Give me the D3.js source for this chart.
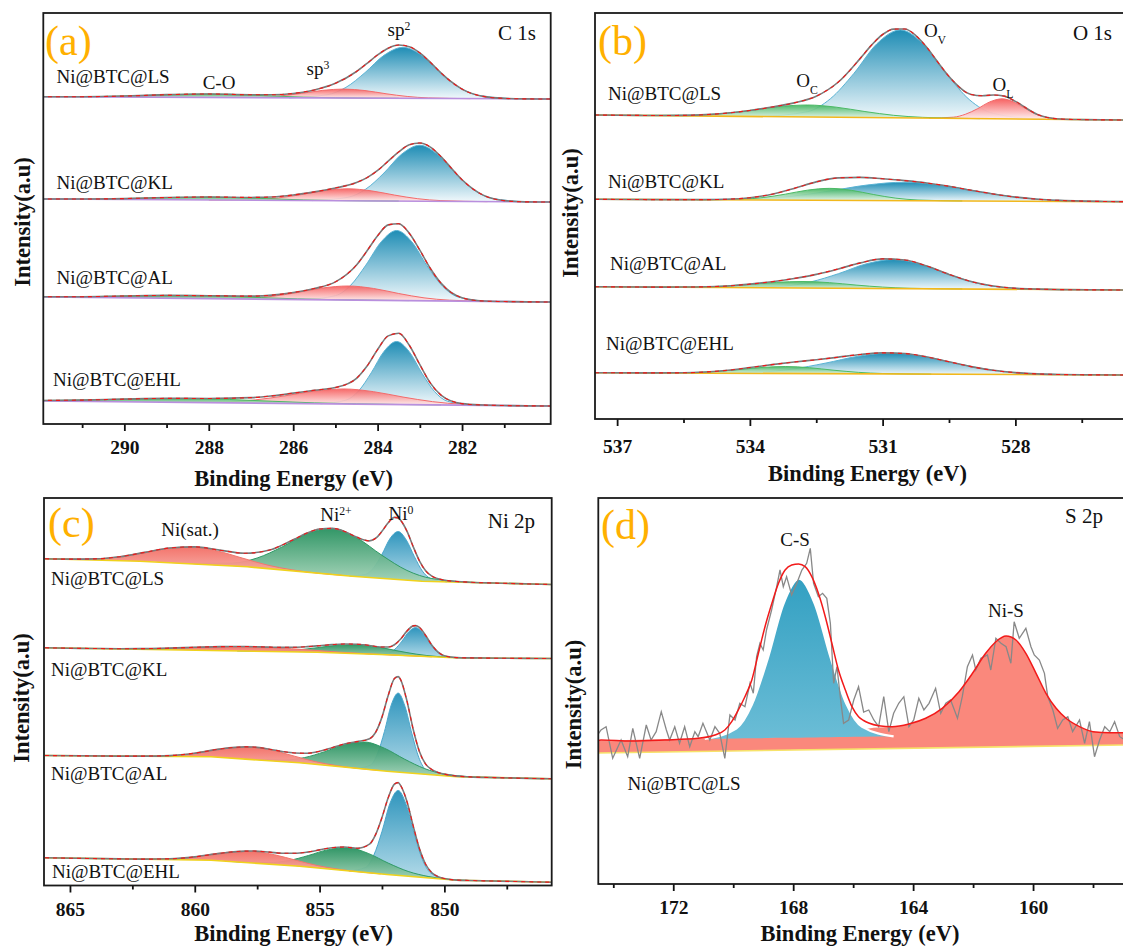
<!DOCTYPE html>
<meta charset="utf-8">
<style>
  body { margin: 0; background: #fff; }
  text { font-family: "Liberation Serif"; fill: #111; }
</style>
<svg width="1123" height="947"></svg>
<script src="https://cdn.jsdelivr.net/npm/d3@7"></script>
<script>

var svg = d3.select("svg"),
    defs = svg.append("defs");

var samples = ["Ni@BTC@LS", "Ni@BTC@KL", "Ni@BTC@AL", "Ni@BTC@EHL"];

// ---------- (a) C 1s : [eV, height above baseline] ----------
var cTicks = [290, 288, 286, 284, 282],
    cMinor = [291, 289, 287, 285, 283, 281];
var cBase = [[327.3, 325], [225, 222], [127, 122], [23, 18]];
var cFit = [
  [[292,0],[291,0.2],[290,1],[289,2.6],[288,3.5],[287,2.9],[286.5,3],[286,4.4],[285.5,8],[285,14.7],[284.5,26.6],[284.25,34.8],[284,43.3],[283.75,50.1],[283.5,53.3],[283.25,51.7],[283,45.5],[282.75,36],[282.5,25.7],[282.25,16.6],[282,9.5],[281.5,2.3],[281,0.4],[280.5,0],[279.9,0]],
  [[292,0],[291,0.2],[290,0.9],[289,2.2],[288,3],[287,2.8],[286.5,3.4],[286,5.5],[285.5,8.7],[285,12.7],[284.5,18.3],[284.25,23.3],[284,30.5],[283.75,39.9],[283.5,49.2],[283.25,56.4],[283,58.3],[282.75,54.2],[282.5,44.8],[282.25,33.1],[282,21.7],[281.5,6.5],[281,1.1],[280.5,0],[279.9,0]],
  [[292,0.2],[291,0.7],[290,1.8],[289,2.8],[288,2.9],[287,2.9],[286.5,4.1],[286,6.9],[285.5,11.2],[285,18],[284.5,35.1],[284.25,49.4],[284,64.6],[283.75,75.5],[283.5,76.8],[283.25,67.3],[283,50.5],[282.75,32.3],[282.5,17.8],[282,3.3],[281.5,0.3],[281,0],[279.9,0]],
  [[292,0.5],[291,1.3],[290,2.7],[289,3.8],[288,4.2],[287,5.4],[286.5,7.4],[286,10.3],[285.5,13.4],[285,16.3],[284.5,25.8],[284.25,38.2],[284,54.8],[283.75,68.5],[283.5,71.2],[283.25,59.4],[283,40],[282.75,21.7],[282.5,9.9],[282,1.5],[281.5,0.3],[281,0],[279.9,0]]
];
var cSp2 = [
  [[286.1,0],[285.2,3.2],[284.75,10.7],[284.3,25.5],[283.85,42.9],[283.4,51],[282.95,42.9],[282.5,25.5],[282.05,10.7],[281.6,3.2],[280.7,0]],
  [[285.55,0],[284.7,3.5],[284.28,11.8],[283.85,28],[283.43,47],[283,56],[282.58,47],[282.15,28],[281.73,11.8],[281.3,3.5],[280.45,0]],
  [[285.73,0],[285,4.2],[284.64,14.7],[284.28,35],[283.91,58.8],[283.55,70],[283.19,58.8],[282.83,35],[282.46,14.7],[282.1,4.2],[281.38,0]],
  [[285.35,0],[284.75,3.8],[284.45,13.2],[284.15,31.5],[283.85,52.9],[283.55,63],[283.25,52.9],[282.95,31.5],[282.65,13.2],[282.35,3.8],[281.75,0]]
];
var cSp3 = [
  [[287.8,0],[286.8,0.56],[286.3,1.9],[285.8,4.5],[285.3,7.6],[284.8,9],[284.3,7.6],[283.8,4.5],[283.3,1.9],[282.8,0.56],[281.8,0]],
  [[288,0],[286.9,0.75],[286.35,2.5],[285.8,6],[285.25,10.1],[284.7,12],[284.15,10.1],[283.6,6],[283.05,2.5],[282.5,0.75],[281.4,0]],
  [[288.3,0],[287.1,0.84],[286.5,2.9],[285.9,7],[285.3,11.8],[284.7,14],[284.1,11.8],[283.5,7],[282.9,2.9],[282.3,0.84],[281.1,0]],
  [[289,0],[287.6,0.9],[286.9,3.2],[286.2,7.5],[285.5,12.6],[284.8,15],[284.1,12.6],[283.4,7.5],[282.7,3.2],[282,0.9],[280.6,0]]
];
var cCO = [
  [[292,0.05],[291,0.22],[290.25,0.74],[289.5,1.75],[288.75,2.94],[288,3.5],[287.25,2.94],[286.5,1.75],[285.75,0.74],[285,0.22],[283.5,0]],
  [[292,0.03],[291,0.19],[290.25,0.63],[289.5,1.5],[288.75,2.5],[288,3],[287.25,2.5],[286.5,1.5],[285.75,0.63],[285,0.19],[283.5,0]],
  [[292,0.19],[291.1,0.63],[290.25,1.5],[289.4,2.5],[288.5,3],[287.6,2.5],[286.75,1.5],[285.9,0.63],[285,0.19],[283.25,0]],
  [[292,0.5],[291.5,0.84],[290.5,2],[289.5,3.36],[288.5,4],[287.5,3.36],[286.5,2],[285.5,0.84],[284.5,0.25],[282.5,0]]
];

// ---------- (b) O 1s ----------
var oTicks = [537, 534, 531, 528],
    oMinor = [535.5, 532.5, 529.5, 526.5];
var oBase = [[304, 299], [219.7, 217.3], [132.3, 129], [46.3, 44]];
var oFit = [
  [[537.5,0],[536.5,0],[536,0.1],[535.5,0.5],[535,1.4],[534.5,3.2],[534,6],[533.5,9.6],[533,14],[532.5,20.9],[532,35.3],[531.5,59.4],[531.25,72.5],[531,83.2],[530.75,88.7],[530.5,88.9],[530.25,82.5],[530,70.7],[529.75,55.9],[529.5,41.9],[529,24.1],[528.75,22.9],[528.5,23.7],[528.25,22.7],[528,17.6],[527.5,4.7],[527,0.4],[526.5,0],[525.5,0]],
  [[537.5,0],[536,0],[535,0.2],[534.5,0.7],[534,2.3],[533.5,5.8],[533,11.8],[532.5,18.4],[532,22.5],[531.5,23.1],[531,21.8],[530.5,20.1],[530,17.8],[529.5,14.6],[529,10.8],[528.5,7.1],[528,4.1],[527.5,2.1],[527,1],[526.5,0.4],[526,0.15],[525.5,0]],
  [[537.5,0],[536,0],[535.5,0.2],[535,0.6],[534.5,1.6],[534,3.5],[533.5,6.1],[533,9.5],[532.5,13.7],[532,19.3],[531.5,25.5],[531,29.6],[530.5,28.7],[530,22.7],[529.5,14.5],[529,7.5],[528.5,3.1],[528,1],[527.5,0.3],[527,0],[525.5,0]],
  [[537.5,0],[536.5,0],[536,0.1],[535.5,0.3],[535,1.2],[534.5,3],[534,5.8],[533.5,8.8],[533,11.5],[532.5,13.9],[532,16.6],[531.5,19.4],[531,21.1],[530.5,20.5],[530,17.2],[529.5,12.5],[529,7.7],[528.5,4.1],[528,1.9],[527.5,0.7],[527,0.2],[526.5,0],[525.5,0]]
];
var oOv = [
  [[533.75,0],[532.7,5.3],[532.18,18.5],[531.65,44],[531.13,73.9],[530.6,88],[530.08,73.9],[529.55,44],[529.03,18.5],[528.5,5.3],[527.45,0]],
  [[535.6,0],[533.9,1.2],[533.05,3.9],[532.2,9.3],[531.35,15.5],[530.5,18.5],[529.65,15.5],[528.8,9.3],[527.95,3.9],[527.1,1.2],[525.5,0]],
  [[534.5,0],[533.25,1.7],[532.63,6.1],[532,14.5],[531.38,24.4],[530.75,29],[530.13,24.4],[529.5,14.5],[528.88,6.1],[528.25,1.7],[527,0]],
  [[535.3,0],[533.8,1.3],[533.05,4.4],[532.3,10.5],[531.55,17.6],[530.8,21],[530.05,17.6],[529.3,10.5],[528.55,4.4],[527.8,1.3],[526.3,0]]
];
var oOc = [
  [[536.6,0],[535.3,0.75],[534.65,2.5],[534,6],[533.35,10.1],[532.7,12],[532.05,10.1],[531.4,6],[530.75,2.5],[530.1,0.75],[528.8,0]],
  [[535.2,0],[534.2,0.75],[533.7,2.5],[533.2,6],[532.7,10.1],[532.2,12],[531.7,10.1],[531.2,6],[530.7,2.5],[530.2,0.75],[529.2,0]],
  [[536.4,0],[535.2,0.4],[534.6,1.4],[534,3.25],[533.4,5.5],[532.8,6.5],[532.2,5.5],[531.6,3.25],[531,1.4],[530.4,0.4],[529.2,0]],
  [[536.5,0],[535.4,0.44],[534.85,1.5],[534.3,3.5],[533.75,5.9],[533.2,7],[532.65,5.9],[532.1,3.5],[531.55,1.5],[531,0.44],[529.9,0]]
];
var oOl = [
  [[529.95,0],[529.4,1.2],[529.13,4.2],[528.85,10],[528.58,16.8],[528.3,20],[528.03,16.8],[527.75,10],[527.48,4.2],[527.2,1.2],[526.65,0]],
  [], [], []
];

// ---------- (c) Ni 2p ----------
var nTicks = [865, 860, 855, 850],
    nMinor = [862.5, 857.5, 852.5, 847.5];
var nBase = [
  [[866,326.7],[862.2,324.3],[857.9,318.7],[853.7,309.3],[850.9,304.3],[845.7,301]],
  [[866,237.7],[855.1,233.3],[852.3,230.7],[849.6,227.7],[845.7,227]],
  [[866,130],[859.35,128.7],[855.8,122.7],[852.3,114.3],[849.5,108.7],[845.7,106.7]],
  [[866,27.7],[859.35,25.3],[855.8,19.3],[852.3,11],[849.5,5.3],[845.7,3.3]]
];
var nFit = [
  [[866,0],[865,0.3],[864,1.2],[863,4],[862,9.1],[861,14.8],[860,17.2],[859,15.2],[858,13.4],[857,18.8],[856.5,24.8],[856,32],[855.5,39.1],[855,44.3],[854.5,46],[854,44.1],[853.5,39.3],[853,36.6],[852.75,39.7],[852.5,47],[852.25,56],[852,61.9],[851.85,61.6],[851.75,59.3],[851.5,49],[851.25,34],[851,20.2],[850.75,10.6],[850.5,5.3],[850,1.6],[849.5,0.6],[849,0.2],[848,0],[845.7,0]],
  [[866,0],[865,0],[864,0.1],[863,0.3],[862,0.8],[861,1.7],[860,2.9],[859,4],[858,4.5],[857,4.3],[856.5,4.3],[856,4.6],[855.5,5.4],[855,6.6],[854.5,8.1],[854,9.2],[853.5,9.5],[853,8.7],[852.75,7.9],[852.5,7.6],[852.25,7.8],[852,10.4],[851.75,16.4],[851.5,24.6],[851.25,30.1],[851.15,30.5],[851,28.8],[850.75,21],[850.5,11.6],[850.25,5],[850,1.7],[849.5,0.2],[849,0],[845.7,0]],
  [[866,0],[863,0],[862,0.2],[861,0.9],[860,3.5],[859,8.3],[858,12.2],[857.7,12.6],[857,11.6],[856.5,10.2],[856,9.5],[855.5,10.3],[855,13.4],[854.5,18.2],[854,23.2],[853.5,26.7],[853,30.7],[852.75,38],[852.5,53.6],[852.25,75.9],[852,93.3],[851.85,95.5],[851.75,92.5],[851.5,71.9],[851.25,44.1],[851,22.3],[850.75,10.2],[850.5,5.2],[850.25,2.9],[850,1.7],[849.5,0.7],[849,0.2],[848,0],[845.7,0]],
  [[866,0],[863,0],[862,0.1],[861,0.8],[860,3.1],[859,7.4],[858,11.4],[857.65,12],[857,12],[856.5,11.8],[856,12.6],[855.5,14.8],[855,18.2],[854.5,21.6],[854,23.4],[853.5,23.4],[853,28.7],[852.75,39.1],[852.5,56.5],[852.25,76.9],[852,91],[851.85,92.8],[851.75,90],[851.5,74.7],[851.25,50.8],[851,28.6],[850.75,13.4],[850.5,5.4],[850.25,2],[850,0.7],[849.5,0.1],[849,0],[845.7,0]]
];
var nNi0 = [
  [[853.8,0],[853.15,2.9],[852.83,10.1],[852.5,24],[852.18,40.3],[851.85,48],[851.53,40.3],[851.2,24],[850.88,10.1],[850.55,2.9],[849.9,0]],
  [[852.8,0],[852.25,1.7],[851.98,6],[851.7,14.3],[851.43,23.9],[851.15,28.5],[850.88,23.9],[850.6,14.3],[850.33,6],[850.05,1.7],[849.5,0]],
  [[853.5,0],[852.95,4.7],[852.68,16.6],[852.4,39.5],[852.13,66.4],[851.85,79],[851.58,66.4],[851.3,39.5],[851.03,16.6],[850.75,4.7],[850.2,0]],
  [[853.8,0],[853.15,5.1],[852.83,17.9],[852.5,42.5],[852.18,71.4],[851.85,85],[851.53,71.4],[851.2,42.5],[850.88,17.9],[850.55,5.1],[849.9,0]]
];
var nNi2 = [
  [[860.5,0],[858.5,2.9],[857.5,9.7],[856.5,23],[855.5,38.6],[854.5,46],[853.5,38.6],[852.5,23],[851.5,9.7],[850.5,2.9],[848.5,0]],
  [[858.3,0],[856.7,0.56],[855.9,1.9],[855.1,4.5],[854.3,7.6],[853.5,9],[852.7,7.6],[851.9,4.5],[851.1,1.9],[850.3,0.56],[848.7,0]],
  [[858,0],[856.4,1.7],[855.6,5.7],[854.8,13.5],[854,22.7],[853.2,27],[852.4,22.7],[851.6,13.5],[850.8,5.7],[850,1.7],[848.4,0]],
  [[858.65,0],[857.05,1.4],[856.25,4.8],[855.45,11.5],[854.65,19.3],[853.85,23],[853.05,19.3],[852.25,11.5],[851.45,4.8],[850.65,1.4],[849.05,0]]
];
var nSat = [
  [[866.1,0],[864.1,1],[863.1,3.6],[862.1,8.5],[861.1,14.3],[860.1,17],[859.1,14.3],[858.1,8.5],[857.1,3.6],[856.1,1],[854.1,0]],
  [[865.5,0],[863,0.28],[861.75,0.95],[860.5,2.25],[859.25,3.8],[858,4.5],[856.75,3.8],[855.5,2.25],[854.25,0.95],[853,0.28],[850.5,0]],
  [[862.8,0],[861.1,0.75],[860.25,2.6],[859.4,6.25],[858.55,10.5],[857.7,12.5],[856.85,10.5],[856,6.25],[855.15,2.6],[854.3,0.75],[852.6,0]],
  [[862.75,0],[861.05,0.7],[860.2,2.4],[859.35,5.75],[858.5,9.7],[857.65,11.5],[856.8,9.7],[855.95,5.75],[855.1,2.4],[854.25,0.7],[852.55,0]]
];

// ---------- (d) S 2p (Ni@BTC@LS) : absolute intensity ----------
var sTicks = [172, 168, 164, 160],
    sMinor = [174, 170, 166, 162, 158];
var sFloor = [[174.5, 131], [156.9, 139]];
var sBg = [[174.5, 143.5], [156.9, 151]];
var sRaw = [[174.5,150],[174.41,154],[174.24,157.3],[174.02,125.7],[173.74,144],[173.52,127.3],[173.35,155.7],[173.12,125.7],[172.9,159],[172.74,144],[172.57,152.3],[172.4,172.3],[172.23,154],[172.12,144],[171.95,157.3],[171.79,140.7],[171.62,157.3],[171.45,137.3],[171.28,152.3],[171.17,147.3],[171.01,160.7],[170.78,144],[170.61,157.3],[170.45,150.7],[170.28,125.7],[170.11,169],[169.94,164],[169.78,180.7],[169.61,177.3],[169.44,200.7],[169.33,190.7],[169.22,227.3],[169.11,240.7],[169,234],[168.89,254],[168.72,274],[168.55,297.3],[168.44,314],[168.33,297.3],[168.22,307.3],[168.05,289],[167.88,300.7],[167.71,314],[167.55,320.7],[167.43,335.7],[167.32,300.7],[167.16,287.3],[167.02,290.7],[166.88,285.7],[166.76,260.7],[166.65,200.7],[166.54,217.3],[166.43,187.3],[166.32,160.7],[166.15,164],[165.98,184],[165.82,197.3],[165.65,172],[165.48,174],[165.31,164],[165.15,157.3],[164.98,187.3],[164.81,152.3],[164.65,170.7],[164.48,180.7],[164.31,187.3],[164.14,157.3],[163.98,164],[163.81,185.7],[163.64,174],[163.47,180.7],[163.25,195.7],[163.08,170.7],[162.91,180.7],[162.75,184],[162.52,165.7],[162.36,187.3],[162.19,217.3],[162.02,229],[161.91,214],[161.74,225.7],[161.52,229],[161.41,214],[161.24,245.7],[161.07,240.7],[160.9,237.3],[160.74,220.7],[160.63,262.3],[160.46,245.7],[160.24,255.7],[160.07,237.3],[159.96,229],[159.79,224],[159.62,210.7],[159.51,187.3],[159.34,174],[159.18,155.7],[159.01,164],[158.84,167.3],[158.68,152.3],[158.45,164],[158.28,140.7],[158.12,162.3],[157.95,127.3],[157.78,144],[157.61,157.3],[157.44,152.3],[157.28,162.3],[157.11,147.3],[156.94,144]];
var sFit = [[174.5,143.5],[174.41,144],[173.4,143],[172.29,144],[171.17,145.7],[170.61,149],[170.28,154],[170.05,162.3],[169.83,174],[169.61,187.3],[169.38,204],[169.16,230.7],[168.94,257.3],[168.71,280.7],[168.49,300.7],[168.27,314],[168.05,319],[167.82,320],[167.6,317.3],[167.38,307.3],[167.16,290.7],[166.93,267.3],[166.71,240.7],[166.49,214],[166.26,194],[166.04,177.3],[165.82,167.3],[165.65,163.5],[165.48,161],[165.15,158.3],[164.7,157.3],[164.14,160],[163.58,165.7],[163.03,175.7],[162.47,192.3],[162.02,210.7],[161.58,230.7],[161.24,242.3],[160.9,248],[160.57,244],[160.24,230.7],[159.9,210.7],[159.57,190.7],[159.23,175.7],[158.9,165.7],[158.45,157.3],[158,152.3],[157.44,151.3],[156.9,151.3]];
var sCS = [[170.95,0],[169.9,9.9],[169.38,33.4],[168.85,79.5],[168.33,133.6],[167.8,159],[167.28,133.6],[166.75,79.5],[166.23,33.4],[165.7,9.9],[164.65,0]];
var sNiS = [[174.5,0],[170,0.5],[168.5,1],[167,2.5],[166,4.5],[165.48,8.1],[165.15,8.9],[164.7,9.3],[164.14,12.1],[163.58,17.5],[163.03,27.3],[162.47,43.7],[162.02,61.9],[161.58,81.7],[161.24,93.1],[160.9,98.7],[160.57,94.5],[160.24,81.1],[159.9,61],[159.57,40.8],[159.23,25.7],[158.9,15.6],[158.45,7],[158,1.8],[157.44,0.5],[156.9,0.3]];

// ---------- gradients ----------
function grad(id, c0, c1) {
  var lg = defs.append("linearGradient").attr("id", id)
      .attr("x1", 0).attr("y1", 0).attr("x2", 0).attr("y2", 1);
  lg.append("stop").attr("offset", 0).attr("stop-color", c0);
  lg.append("stop").attr("offset", 1).attr("stop-color", c1);
}
grad("blueA", "#1f8db5", "#f2f9fc");
grad("redA", "#f65a5a", "#fff0f0");
grad("greenA", "#3db35c", "#e8f6ec");
grad("blueC", "#2f95bd", "#b4dbe9");
grad("greenC", "#27915f", "#a5d4b8");
grad("redC", "#f26d64", "#f9b2ab");
grad("blueD", "#33a0c2", "#6bbdd6");

// ---------- panels ----------
var panels = [
  {id: "a", x0: 43.3, x1: 550.7, top: 13, bottom: 424, dom: [291.92, 279.9], ticks: cTicks, minor: cMinor, pad: 9,
   title: [293.7, 485.5], ylab: [30, 222], letter: [45, 55, "(a)"], core: [536, 40, "C 1s"]},
  {id: "b", x0: 595, x1: 1126, top: 13, bottom: 419, dom: [537.5, 525.5], ticks: oTicks, minor: oMinor, pad: 13,
   title: [867.5, 481], ylab: [578, 213], letter: [598, 55, "(b)"], core: [1112, 40, "O 1s"]},
  {id: "c", x0: 44, x1: 551.7, top: 498, bottom: 885.5, dom: [866.04, 845.7], ticks: nTicks, minor: nMinor, pad: 10,
   title: [293.7, 940.5], ylab: [28.5, 698], letter: [48, 537, "(c)"], core: [535, 528, "Ni 2p"]},
  {id: "d", x0: 598.3, x1: 1126, top: 498, bottom: 884, dom: [174.5, 156.9], ticks: sTicks, minor: sMinor, pad: 9,
   title: [860, 941], ylab: [581, 704.5], letter: [601, 539, "(d)"], core: [1103, 523, "S 2p"]}
];

function frame(p) {
  var x = d3.scaleLinear().domain(p.dom).range([p.x0, p.x1]),
      y = d3.scaleLinear().domain([0, p.bottom - p.top]).range([p.bottom, p.top]);
  var g = svg.append("g");
  defs.append("clipPath").attr("id", "clip-" + p.id).append("rect")
      .attr("x", p.x0).attr("y", p.top).attr("width", p.x1 - p.x0).attr("height", p.bottom - p.top);
  var plot = g.append("g").attr("clip-path", "url(#clip-" + p.id + ")");

  var ax = g.append("g").attr("transform", "translate(0," + p.bottom + ")");
  ax.append("g").call(d3.axisBottom(x).tickValues(p.ticks).tickSize(7).tickPadding(p.pad).tickFormat(d3.format("d")));
  ax.append("g").call(d3.axisBottom(x).tickValues(p.minor).tickSize(4).tickFormat(""));
  ax.selectAll("g").attr("font-family", null);
  ax.selectAll(".domain").remove();
  ax.selectAll(".tick line").attr("stroke", "#111").attr("stroke-width", 1.8);
  ax.selectAll(".tick text").attr("font-size", 19.5).attr("font-weight", "bold");

  g.append("rect").attr("x", p.x0).attr("y", p.top)
      .attr("width", p.x1 - p.x0).attr("height", p.bottom - p.top)
      .attr("fill", "none").attr("stroke", "#1a1a1a").attr("stroke-width", 1.8);

  g.append("text").attr("x", p.title[0]).attr("y", p.title[1]).attr("text-anchor", "middle")
      .attr("font-size", 22.5).attr("font-weight", "bold").text("Binding Energy (eV)");
  g.append("text").attr("transform", "translate(" + p.ylab[0] + "," + p.ylab[1] + ") rotate(-90)")
      .attr("text-anchor", "middle").attr("font-size", 22.5).attr("font-weight", "bold").text("Intensity(a.u)");
  g.append("text").attr("x", p.letter[0]).attr("y", p.letter[1]).attr("font-size", 42)
      .style("fill", "#ffb000").text(p.letter[2]);
  g.append("text").attr("x", p.core[0]).attr("y", p.core[1]).attr("text-anchor", "end")
      .attr("font-size", 21).text(p.core[2]);
  return {x: x, y: y, g: g, plot: plot};
}

function stack(f, p, bases, fit, comps, baseColor) {
  bases.forEach(function(b, i) {
    var pts = typeof b[0] === "number" ? [[p.dom[0], b[0]], [p.dom[1], b[1]]] : b;
    var bs = d3.scaleLinear().domain(pts.map(function(d) { return d[0]; }))
        .range(pts.map(function(d) { return d[1]; }));
    comps.forEach(function(c) {
      var d = c.data[i];
      if (!d.length) return;
      var area = d3.area().curve(d3.curveMonotoneX)
          .x(function(v) { return f.x(v[0]); })
          .y0(function(v) { return f.y(bs(v[0])); })
          .y1(function(v) { return f.y(bs(v[0]) + v[1]); });
      f.plot.append("path").attr("d", area(d)).attr("fill", "url(#" + c.fill + ")").attr("fill-opacity", c.op);
      f.plot.append("path").attr("d", area.lineY1()(d)).attr("fill", "none")
          .attr("stroke", c.stroke).attr("stroke-width", 1);
    });
    f.plot.append("path")
        .attr("d", d3.line().x(function(v) { return f.x(v[0]); }).y(function(v) { return f.y(v[1]); })(pts))
        .attr("fill", "none").attr("stroke", baseColor).attr("stroke-width", 1.6);
    var fl = d3.line().curve(d3.curveMonotoneX)
        .x(function(v) { return f.x(v[0]); })
        .y(function(v) { return f.y(bs(v[0]) + v[1]); });
    f.plot.append("path").attr("d", fl(fit[i])).attr("fill", "none")
        .attr("stroke", "#7a7a7a").attr("stroke-width", 1.6);
    f.plot.append("path").attr("d", fl(fit[i])).attr("fill", "none")
        .attr("stroke", "#f01818").attr("stroke-width", 1.1).attr("stroke-dasharray", "4 4");
  });
}

function label(g, x, y, parts, size, anchor) {
  var t = g.append("text").attr("x", x).attr("y", y).attr("font-size", size)
      .attr("text-anchor", anchor || "middle");
  parts.forEach(function(s) {
    var ts = t.append("tspan").text(s[0]);
    if (s[1]) ts.attr("baseline-shift", s[1]).attr("font-size", size * 0.62);
  });
}

// (a)
var fa = frame(panels[0]);
stack(fa, panels[0], cBase, cFit, [
  {data: cSp2, fill: "blueA", stroke: "#5ab3d4", op: 1},
  {data: cSp3, fill: "redA", stroke: "#f36b6b", op: 0.9},
  {data: cCO, fill: "greenA", stroke: "#4cba66", op: 0.9}
], "#b98fde");
[[56.5, 83], [56.5, 189], [56.5, 284], [53, 386]].forEach(function(q, i) {
  label(fa.g, q[0], q[1], [[samples[i]]], 19, "start");
});
label(fa.g, 399, 36, [["sp"], ["2", "super"]], 19);
label(fa.g, 318, 75, [["sp"], ["3", "super"]], 19);
label(fa.g, 219, 88.5, [["C-O"]], 19);

// (b)
var fb = frame(panels[1]);
stack(fb, panels[1], oBase, oFit, [
  {data: oOv, fill: "blueA", stroke: "#5ab3d4", op: 1},
  {data: oOl, fill: "redA", stroke: "#f36b6b", op: 0.95},
  {data: oOc, fill: "greenA", stroke: "#4cba66", op: 0.9}
], "#f2b81c");
[[608, 99.5], [608, 188], [610, 269.5], [606, 349.5]].forEach(function(q, i) {
  label(fb.g, q[0], q[1], [[samples[i]]], 19, "start");
});
label(fb.g, 807, 87, [["O"], ["C", "sub"]], 19);
label(fb.g, 935, 37, [["O"], ["V", "sub"]], 19);
label(fb.g, 1003, 90.5, [["O"], ["L", "sub"]], 19);

// (c)
var fc = frame(panels[2]);
stack(fc, panels[2], nBase, nFit, [
  {data: nNi0, fill: "blueC", stroke: "#4aa7cc", op: 1},
  {data: nNi2, fill: "greenC", stroke: "#2f9a66", op: 0.95},
  {data: nSat, fill: "redC", stroke: "#f2776d", op: 0.95}
], "#f0d21c");
[[51, 584.5], [51, 676], [51, 780], [52, 878]].forEach(function(q, i) {
  label(fc.g, q[0], q[1], [[samples[i]]], 19, "start");
});
label(fc.g, 190, 536, [["Ni(sat.)"]], 19);
label(fc.g, 336, 521, [["Ni"], ["2+", "super"]], 19);
label(fc.g, 401, 519.5, [["Ni"], ["0", "super"]], 19);

// (d)
var fd = frame(panels[3]);
var px = function(v) { return fd.x(v[0]); };
var floor = d3.scaleLinear().domain(sFloor.map(function(d) { return d[0]; })).range(sFloor.map(function(d) { return d[1]; })),
    bg = d3.scaleLinear().domain(sBg.map(function(d) { return d[0]; })).range(sBg.map(function(d) { return d[1]; }));
fd.plot.append("path")
    .attr("d", d3.area().curve(d3.curveMonotoneX).x(px)
      .y0(function(v) { return fd.y(floor(v[0])); })
      .y1(function(v) { return fd.y(bg(v[0]) + v[1]); })(sNiS))
    .attr("fill", "#fa887c");
fd.plot.append("path")
    .attr("d", d3.line().x(px).y(function(v) { return fd.y(v[1]); })(sFloor))
    .attr("fill", "none").attr("stroke", "#f7e36a").attr("stroke-width", 1.6);
var csArea = d3.area().curve(d3.curveMonotoneX).x(px)
    .y0(function(v) { return fd.y(bg(v[0])); })
    .y1(function(v) { return fd.y(bg(v[0]) + v[1]); });
fd.plot.append("path").attr("d", csArea(sCS)).attr("fill", "url(#blueD)");
fd.plot.append("path").attr("d", csArea.lineY1()(sCS))
    .attr("fill", "none").attr("stroke", "#fff").attr("stroke-width", 2.2);
fd.plot.append("path")
    .attr("d", d3.line().x(px).y(function(v) { return fd.y(v[1]); })(sRaw))
    .attr("fill", "none").attr("stroke", "#888").attr("stroke-width", 1.3);
fd.plot.append("path")
    .attr("d", d3.line().curve(d3.curveMonotoneX).x(px).y(function(v) { return fd.y(v[1]); })(sFit))
    .attr("fill", "none").attr("stroke", "#f21a1a").attr("stroke-width", 1.5);
label(fd.g, 627.5, 789.5, [[samples[0]]], 19, "start");
label(fd.g, 795, 546, [["C-S"]], 19);
label(fd.g, 1006, 616.5, [["Ni-S"]], 19);

</script>
